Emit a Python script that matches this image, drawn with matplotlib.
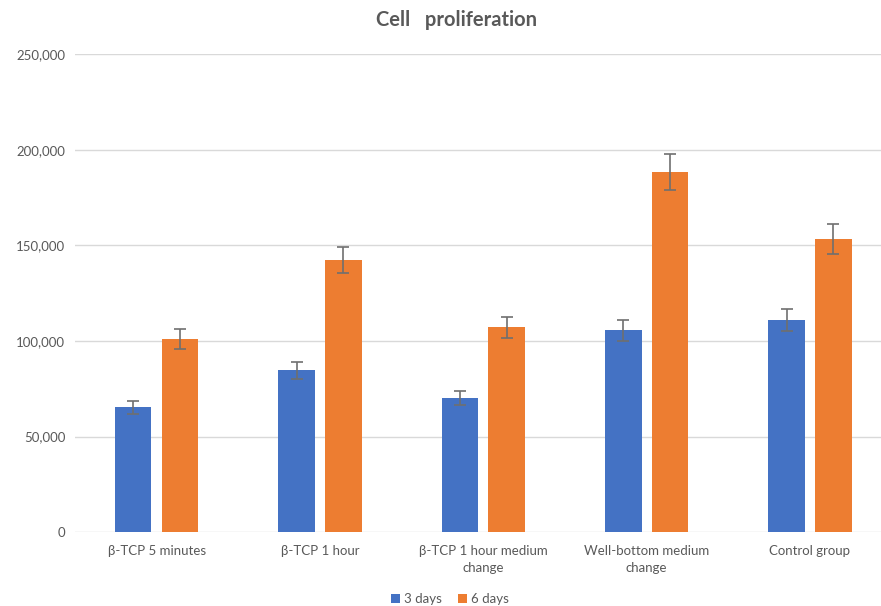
import matplotlib
matplotlib.use("Agg")
import matplotlib.pyplot as plt
import numpy as np
from matplotlib.ticker import FuncFormatter

categories = ["β-TCP 5 minutes", "β-TCP 1 hour", "β-TCP 1 hour medium\nchange",
              "Well-bottom medium\nchange", "Control group"]
days3 = [65400, 84700, 70100, 105600, 111200]
days3_err = [3400, 4450, 3750, 5400, 5750]
days6 = [101100, 142400, 107200, 188300, 153200]
days6_err = [5230, 6970, 5490, 9330, 7750]
series_names = ["3 days", "6 days"]

plt.rcParams['font.family'] = ['Lato', 'DejaVu Sans']
text_color = "#595959"
fig = plt.figure(figsize=(8.81, 6.06), dpi=100)
ax = fig.add_axes([0.0851, 0.1216, 0.927, 0.7893])

x = np.arange(len(categories))
w = 0.223
off = 0.143
errkw = dict(ecolor="#6f6f6f", elinewidth=1.2, capsize=4, capthick=1.2)
ax.bar(x - off, days3, w, color="#4472C4", label=series_names[0],
       yerr=days3_err, error_kw=errkw, zorder=3)
ax.bar(x + off, days6, w, color="#ED7D31", label=series_names[1],
       yerr=days6_err, error_kw=errkw, zorder=3)

ax.set_xlim(-0.5, len(categories) - 0.5)
ax.set_ylim(0, 250000)
ax.set_yticks(np.arange(0, 250001, 50000))
ax.yaxis.set_major_formatter(FuncFormatter(lambda v, p: f"{int(v):,}"))
ax.grid(axis='y', color="#D9D9D9", linewidth=1, zorder=0)
for s in ax.spines.values():
    s.set_visible(False)
ax.tick_params(axis='both', length=0, labelsize=9.5, colors=text_color)
ax.tick_params(axis='y', pad=7)
ax.tick_params(axis='x', pad=9)
ax.set_xticks(x)
ax.set_xticklabels(categories, linespacing=1.55)

fig.text(457 / 881, 1 - 20 / 606, "Cell   proliferation", ha='center', va='center',
         fontsize=14.5, fontweight='bold', color=text_color)

ax.legend(loc='center', bbox_to_anchor=(450 / 881, 1 - 599 / 606),
          bbox_transform=fig.transFigure, ncol=2, frameon=False, fontsize=9.5,
          handlelength=0.7, handleheight=0.7, handletextpad=0.3, columnspacing=1.2,
          labelcolor=text_color)

fig.savefig("out.png", dpi=100)
